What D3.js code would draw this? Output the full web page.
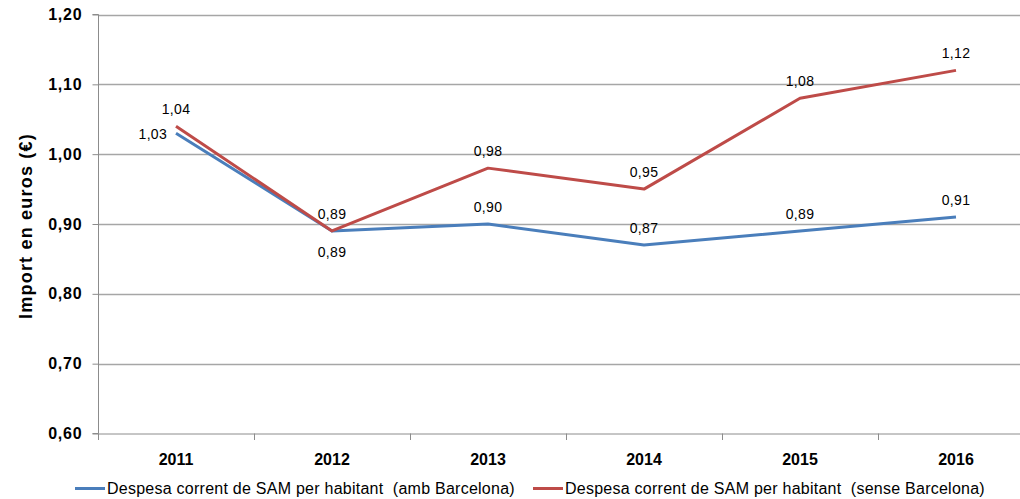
<!DOCTYPE html>
<html><head><meta charset="utf-8">
<script src="https://cdn.jsdelivr.net/npm/d3@7"></script>
<style>
body{margin:0;background:#fff;}
svg{display:block;font-family:Arial,"Liberation Sans",sans-serif;}
</style></head>
<body><svg id="c" width="1020" height="499"></svg>
<script>
const years = ["2011","2012","2013","2014","2015","2016"];
const ambBarcelona = [1.03, 0.89, 0.90, 0.87, 0.89, 0.91];
const senseBarcelona = [1.04, 0.89, 0.98, 0.95, 1.08, 1.12];
const yTicks = [0.60, 0.70, 0.80, 0.90, 1.00, 1.10, 1.20];
const seriesNames = ["Despesa corrent de SAM per habitant  (amb Barcelona)", "Despesa corrent de SAM per habitant  (sense Barcelona)"];
const ambLabelPos = ["left","below","above","above","above","above"];
const senseLabelPos = ["above","above","above","above","above","above"];

const svg = d3.select("#c");
const fmt = v => v.toFixed(2).replace(".", ",");
const x = d3.scaleBand().domain(years).range([98, 1034]);
const y = d3.scaleLinear().domain([0.6, 1.2]).range([433.5, 14.5]);

// gridlines
svg.append("g").selectAll("line").data(yTicks.slice(1)).join("line")
  .attr("x1", 98).attr("x2", 1034)
  .attr("y1", d => Math.round(y(d)) + 0.5).attr("y2", d => Math.round(y(d)) + 0.5)
  .attr("stroke", "#a6a6a6").attr("stroke-width", 1.3);

// y axis
const yAxis = svg.append("g").attr("transform", "translate(98.5,0)")
  .call(d3.axisLeft(y).tickValues(yTicks).tickFormat(fmt).tickSize(6).tickPadding(10));
yAxis.select(".domain").attr("stroke", "#8c8c8c").attr("d", "M-6,14.5H0V433.5H-6");
yAxis.selectAll(".tick line").attr("stroke", "#8c8c8c");
yAxis.selectAll(".tick text").attr("font-size", 16).attr("font-weight", "bold")
  .attr("fill", "#000").attr("letter-spacing", "0.8px").attr("font-family", "Arial, 'Liberation Sans', sans-serif");

// x axis
const xAxis = svg.append("g").attr("transform", "translate(0,433.5)")
  .call(d3.axisBottom(x).tickSize(0).tickPadding(20));
xAxis.select(".domain").attr("stroke", "#8c8c8c");
xAxis.selectAll(".tick text").attr("font-size", 16).attr("font-weight", "bold")
  .attr("fill", "#000").attr("font-family", "Arial, 'Liberation Sans', sans-serif");
const bounds = years.map(d => x(d)).concat([x(years[years.length-1]) + x.bandwidth()]);
svg.append("g").selectAll("line").data(bounds).join("line")
  .attr("x1", d => Math.round(d) + 0.5).attr("x2", d => Math.round(d) + 0.5)
  .attr("y1", 433.5).attr("y2", 440)
  .attr("stroke", "#8c8c8c");

// y title
svg.append("text").attr("transform", "translate(32,226) rotate(-90)")
  .attr("text-anchor", "middle").attr("font-size", 18).attr("font-weight", "bold")
  .attr("fill", "#000").attr("letter-spacing", "1.2px").text("Import en euros (€)");

const cx = d => x(d) + x.bandwidth() / 2;
const line = d3.line().x(d => cx(d.year)).y(d => y(d.v));
const series = [
  {vals: ambBarcelona, color: "#4a7ebb", pos: ambLabelPos},
  {vals: senseBarcelona, color: "#be4b48", pos: senseLabelPos}
];
series.forEach(s => {
  const pts = years.map((yr, i) => ({year: yr, v: s.vals[i], pos: s.pos[i]}));
  svg.append("path").datum(pts).attr("d", line).attr("fill", "none")
    .attr("stroke", s.color).attr("stroke-width", 3).attr("stroke-linejoin", "round");
  svg.append("g").selectAll("text").data(pts).join("text")
    .attr("x", d => d.pos === "left" ? cx(d.year) - 9 : cx(d.year))
    .attr("y", d => d.pos === "above" ? y(d.v) - 12 : d.pos === "below" ? y(d.v) + 26 : y(d.v) + 6)
    .attr("text-anchor", d => d.pos === "left" ? "end" : "middle")
    .attr("font-size", 14).attr("fill", "#000").attr("letter-spacing", "0.3px")
    .text(d => fmt(d.v));
});

// legend
const legX = [75, 533];
series.forEach((s, i) => {
  svg.append("line").attr("x1", legX[i]).attr("x2", legX[i] + 30)
    .attr("y1", 488.5).attr("y2", 488.5).attr("stroke", s.color).attr("stroke-width", 3);
  svg.append("text").attr("x", legX[i] + 32).attr("y", 494).attr("font-size", 16)
    .attr("letter-spacing", "0.25px")
    .attr("fill", "#000").attr("xml:space", "preserve").style("white-space", "pre").text(seriesNames[i]);
});
</script></body></html>
